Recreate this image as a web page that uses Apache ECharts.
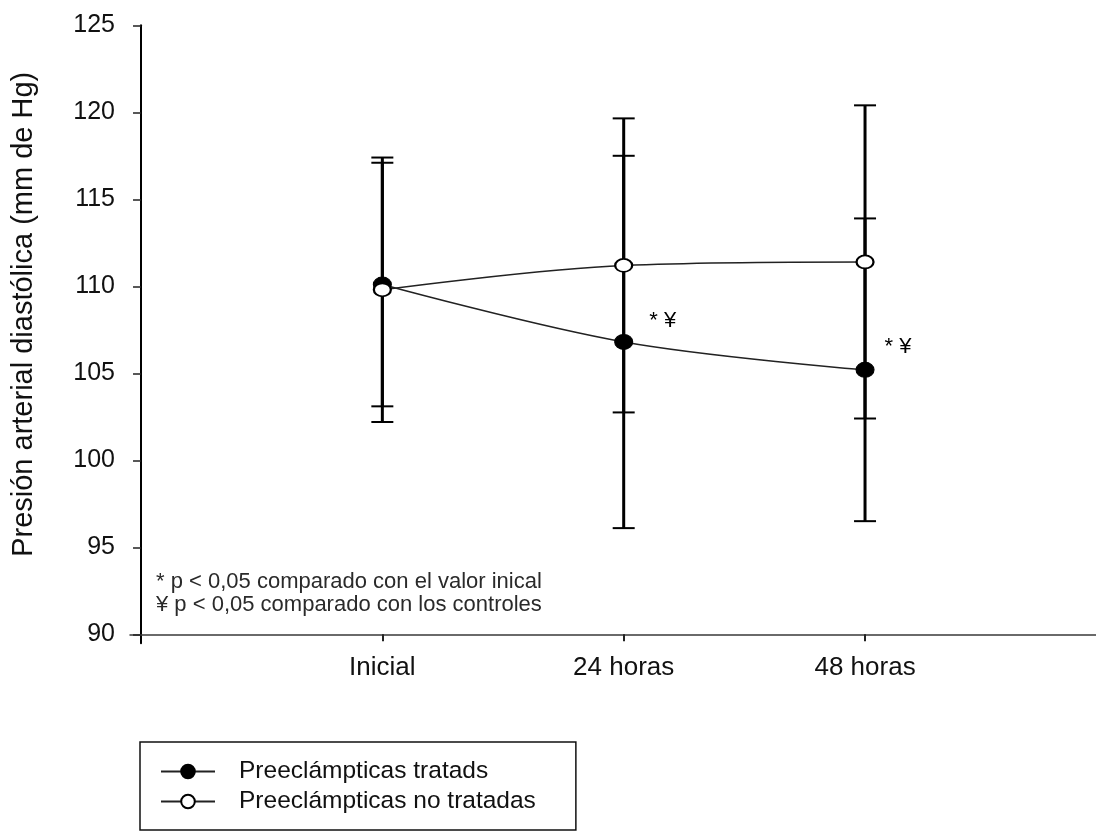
<!DOCTYPE html>
<html>
<head>
<meta charset="utf-8">
<script src="https://cdn.jsdelivr.net/npm/echarts@6/dist/echarts.min.js"></script>
<style>
  html, body { margin: 0; padding: 0; background: #fff; }
  #chart { width: 1096px; height: 832px; }
</style>
</head>
<body>
<div id="chart"></div>
<script>
// Time points and their positions on the value x-axis
const categories = ['Inicial', '24 horas', '48 horas'];
const categoryPos = [1, 2, 3];

// Diastolic blood pressure (mm Hg): mean and standard deviation
const treatedMean = [110.1, 106.8, 105.2];
const treatedSd = [7.0, 10.7, 8.7];
const untreatedMean = [109.8, 111.2, 111.4];
const untreatedSd = [7.6, 8.45, 9.0];

// Significance markers for the treated group
const treatedMarks = ['', '* ¥', '* ¥'];

// Y-axis tick values
const yTicks = [90, 95, 100, 105, 110, 115, 120, 125];

const FONT = 'Liberation Sans, Arial, sans-serif';

const treatedPoints = categoryPos.map((x, i) => [x, treatedMean[i]]);
const untreatedPoints = categoryPos.map((x, i) => [x, untreatedMean[i]]);
const errorData = [];
categoryPos.forEach((x, i) => {
  errorData.push([x, treatedMean[i] - treatedSd[i], treatedMean[i] + treatedSd[i]]);
  errorData.push([x, untreatedMean[i] - untreatedSd[i], untreatedMean[i] + untreatedSd[i]]);
});

const markOffsets = [[0, 0], [11, -21], [5, -23]];

const chart = echarts.init(document.getElementById('chart'), null, { renderer: 'canvas' });

chart.setOption({
  animation: false,
  backgroundColor: '#ffffff',
  grid: { left: 130, right: 0, top: 25.3, bottom: 188.7, containLabel: false, outerBoundsMode: 'none' },
  xAxis: {
    type: 'value',
    min: -0.0456,
    max: 3.957,
    offset: -9,
    splitLine: { show: false },
    axisLine: { show: true, lineStyle: { color: '#3a3a3a', width: 1.5 } },
    axisTick: { show: true, customValues: categoryPos, length: 7, inside: false,
      lineStyle: { color: '#222', width: 2 } },
    axisLabel: {
      customValues: categoryPos,
      formatter: v => categories[Math.round(v) - 1] || '',
      color: '#111', fontFamily: FONT, fontSize: 26, margin: 21
    }
  },
  yAxis: {
    type: 'value',
    min: 89.48,
    max: 125,
    splitLine: { show: false },
    axisLine: { show: true, onZero: true, lineStyle: { color: '#000', width: 2 } },
    axisTick: { show: true, customValues: yTicks, length: 8, lineStyle: { color: '#222', width: 1.5 } },
    axisLabel: {
      customValues: yTicks,
      color: '#111', fontFamily: FONT, fontSize: 25, margin: 15
    },
    name: 'Presión arterial diastólica (mm de Hg)',
    nameLocation: 'middle',
    nameGap: 92,
    nameRotate: 90,
    nameTextStyle: { color: '#111', fontFamily: FONT, fontSize: 29, padding: [0, 0, 0, 40] }
  },
  legend: {
    orient: 'vertical',
    left: 140,
    top: 742,
    padding: [17, 40, 16, 20],
    itemWidth: 54,
    itemHeight: 17,
    itemGap: 5,
    borderColor: '#111',
    borderWidth: 1.5,
    borderRadius: 0,
    selectedMode: false,
    textStyle: { color: '#111', fontFamily: FONT, fontSize: 24.5, lineHeight: 24, padding: [0, 0, 0, 19] },
    data: ['Preeclámpticas tratads', 'Preeclámpticas no tratadas']
  },
  graphic: [
    {
      type: 'text', left: 156, top: 571,
      style: { text: '* p < 0,05 comparado con el valor inical', fontFamily: FONT, fontSize: 22, fill: '#2a2a2a' }
    },
    {
      type: 'text', left: 156, top: 594,
      style: { text: '¥ p < 0,05 comparado con los controles', fontFamily: FONT, fontSize: 22, fill: '#2a2a2a' }
    }
  ],
  series: [
    {
      name: 'error',
      type: 'custom',
      z: 1,
      data: errorData,
      renderItem: function (params, api) {
        const x = api.value(0);
        const lo = api.coord([x, api.value(1)]);
        const hi = api.coord([x, api.value(2)]);
        const hw = 11;
        return {
          type: 'group',
          children: [
            { type: 'line', shape: { x1: lo[0], y1: lo[1], x2: hi[0], y2: hi[1] },
              style: { stroke: '#000', lineWidth: 3 } },
            { type: 'line', shape: { x1: hi[0] - hw, y1: hi[1], x2: hi[0] + hw, y2: hi[1] },
              style: { stroke: '#000', lineWidth: 2 } },
            { type: 'line', shape: { x1: lo[0] - hw, y1: lo[1], x2: lo[0] + hw, y2: lo[1] },
              style: { stroke: '#000', lineWidth: 2 } }
          ]
        };
      }
    },
    {
      name: 'Preeclámpticas tratads',
      type: 'line',
      z: 3,
      smooth: 0.35,
      data: treatedPoints.map((p, i) => ({
        value: p,
        label: {
          show: !!treatedMarks[i],
          formatter: treatedMarks[i],
          position: 'right',
          offset: markOffsets[i],
          fontFamily: FONT,
          fontSize: 22,
          color: '#000'
        }
      })),
      symbol: 'circle',
      symbolSize: [18, 15],
      lineStyle: { color: '#222', width: 1.5 },
      itemStyle: { color: '#000', borderColor: '#000', borderWidth: 1 }
    },
    {
      name: 'Preeclámpticas no tratadas',
      type: 'line',
      z: 4,
      smooth: 0.35,
      data: untreatedPoints,
      symbol: 'circle',
      symbolSize: [17, 13],
      lineStyle: { color: '#222', width: 1.5 },
      itemStyle: { color: '#fff', borderColor: '#000', borderWidth: 2 }
    }
  ]
});
</script>
</body>
</html>
